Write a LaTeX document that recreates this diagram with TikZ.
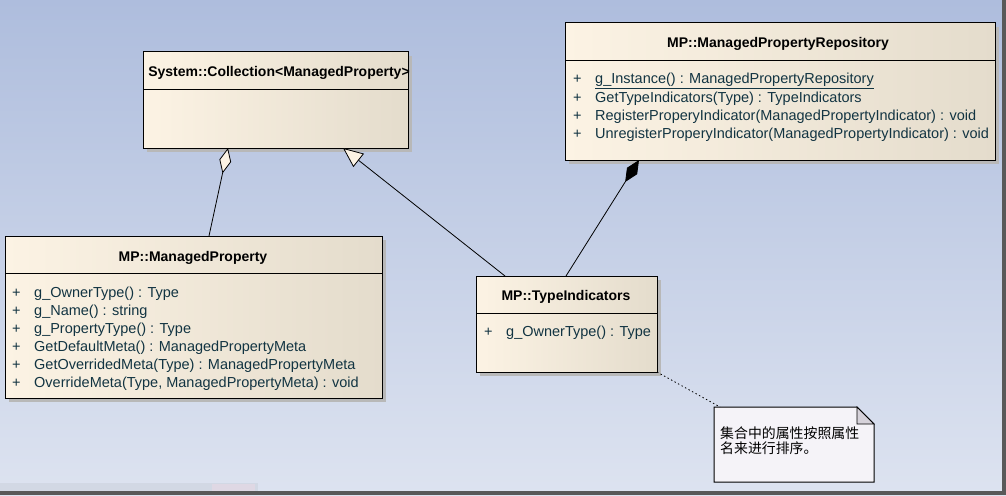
\documentclass[tikz,border=0pt]{standalone}
\usepackage{fontspec}
\setmainfont{Liberation Sans}
\newfontfamily\cjk{Noto Sans CJK SC}
\usetikzlibrary{arrows.meta,shadows}

\definecolor{bgtop}{RGB}{174,189,221}
\definecolor{bgbot}{RGB}{221,227,240}
\definecolor{boxleft}{RGB}{252,243,228}
\definecolor{boxright}{RGB}{228,220,204}
\definecolor{opcol}{RGB}{18,52,66}
\definecolor{notefill}{RGB}{245,243,248}
\definecolor{foldfill}{RGB}{214,210,218}

\tikzset{
  classbox/.style={draw, line width=1pt, inner sep=0pt, outer sep=0pt, anchor=north west,
    left color=boxleft, right color=boxright,
    drop shadow={shadow xshift=4pt, shadow yshift=-4pt, fill=black!28, opacity=1}},
  classname/.style={font=\fontsize{14}{16}\selectfont\bfseries, anchor=base, inner sep=0pt},
  opline/.style={font=\fontsize{14.5}{18}\selectfont, text=opcol, anchor=base west, inner sep=0pt},
  link/.style={line width=0.8pt},
}

\begin{document}
\begin{tikzpicture}[x=1pt,y=-1pt]
  % background and window frame
  \shade[top color=bgtop, bottom color=bgbot] (0,0) rectangle (1006,495);
  \fill[black!5!bgbot] (0,483) rectangle (258,491);
  \fill[red!5!bgbot] (212,484) rectangle (255,491);
  \fill[black!65] (1002,0) rectangle (1006,495);
  \fill[black!65] (0,491) rectangle (1006,495);

  % System::Collection
  \node[classbox, minimum width=265pt, minimum height=96pt] (coll) at (143,52) {};
  \draw[line width=1pt] ([yshift=-37pt]coll.north west) -- ([yshift=-37pt]coll.north east);
  \node[classname] (colltitle) at (279,77) {System::Collection<ManagedProperty>};

  % MP::ManagedPropertyRepository
  \node[classbox, minimum width=430pt, minimum height=137pt] (repo) at (565,23) {};
  \draw[line width=1pt] ([yshift=-38pt]repo.north west) -- ([yshift=-38pt]repo.north east);
  \node[classname] (repotitle) at (778,48) {MP::ManagedPropertyRepository};
  \foreach \txt [count=\i] in {\underline{g\_Instance() : ManagedPropertyRepository},
      GetTypeIndicators(Type) : TypeIndicators,
      RegisterProperyIndicator(ManagedPropertyIndicator) : void,
      UnregisterProperyIndicator(ManagedPropertyIndicator) : void} {
    \node[opline] (repop\i) at (573,{66+18*\i}) {+};
    \node[opline] (repoop\i) at (595,{66+18*\i}) {\txt};
  }

  % MP::ManagedProperty
  \node[classbox, minimum width=377pt, minimum height=162pt] (mp) at (5,236) {};
  \draw[line width=1pt] ([yshift=-37pt]mp.north west) -- ([yshift=-37pt]mp.north east);
  \node[classname] (mptitle) at (193,261) {MP::ManagedProperty};
  \foreach \txt [count=\i] in {g\_OwnerType() : Type, g\_Name() : string,
      g\_PropertyType() : Type, GetDefaultMeta() : ManagedPropertyMeta,
      GetOverridedMeta(Type) : ManagedPropertyMeta,
      {OverrideMeta(Type, ManagedPropertyMeta) : void}} {
    \node[opline] (mpp\i) at (12,{279+18*\i}) {+};
    \node[opline] (mpop\i) at (34,{279+18*\i}) {\txt};
  }

  % MP::TypeIndicators
  \node[classbox, minimum width=181pt, minimum height=96pt] (ti) at (476,276) {};
  \draw[line width=1pt] ([yshift=-37pt]ti.north west) -- ([yshift=-37pt]ti.north east);
  \node[classname] (tititle) at (566,300) {MP::TypeIndicators};
  \node[opline] (tip1) at (484,336) {+};
  \node[opline] (tiop1) at (506,336) {g\_OwnerType() : Type};

  % note
  \node[inner sep=0pt, outer sep=0pt, anchor=north west, minimum width=160pt, minimum height=75pt] (note) at (714,407) {};
  \filldraw[fill=notefill, line width=1pt] (note.north west) -- ([xshift=-17pt]note.north east)
    -- ([yshift=-17pt]note.north east) -- (note.south east) -- (note.south west) -- cycle;
  \filldraw[fill=foldfill, line width=0.8pt] ([xshift=-17pt]note.north east)
    -- ([xshift=-17pt,yshift=-17pt]note.north east) -- ([yshift=-17pt]note.north east) -- cycle;
  \node[inner sep=0pt, anchor=north west, align=left, font=\cjk\fontsize{13.9}{15}\selectfont] (notetxt) at (720,427) {集合中的属性按照属性\\名来进行排序。};

  % relations
  \draw[link, -{Diamond[fill=boxleft, length=26pt, width=12pt]}] ([xshift=204pt]mp.north west) -- ([xshift=85pt]coll.south west);
  \draw[link, -{Triangle[fill=boxleft, length=20pt, width=17pt]}] ([xshift=29pt]ti.north west) -- ([xshift=200pt]coll.south west);
  \draw[link, -{Diamond[length=26pt, width=12pt]}] ([xshift=90pt]ti.north west) -- ([xshift=74pt]repo.south west);
  \draw[link, dash pattern=on 1.5pt off 2.5pt] (ti.south east) -- ([xshift=6pt]note.north west);
\end{tikzpicture}
\end{document}
